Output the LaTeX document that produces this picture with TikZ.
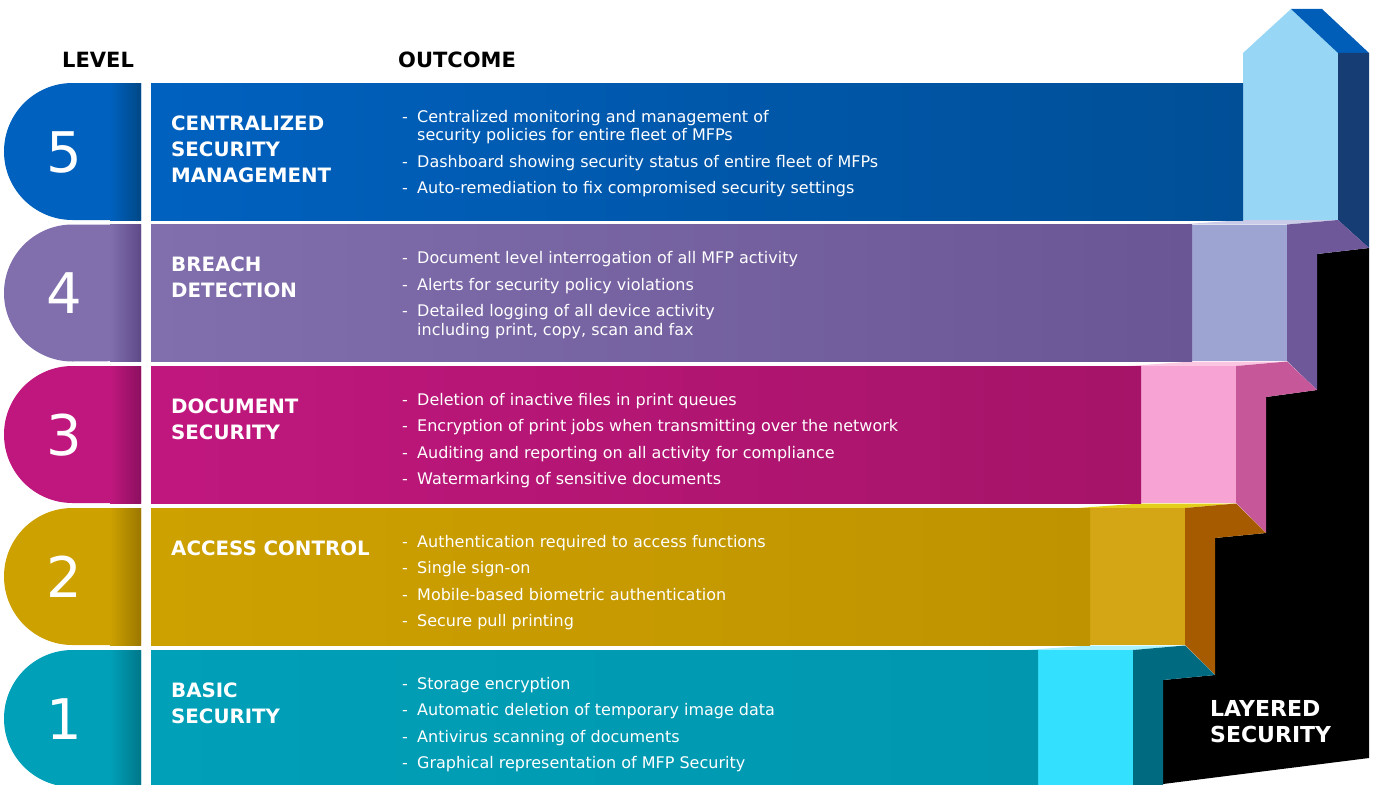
\documentclass[tikz,border=0pt]{standalone}
\usepackage{fontspec}
\setmainfont{DejaVu Sans}

% layer colours: base, bar end, cap edge, step face, step side, step lid
\definecolor{lay5}{HTML}{0061BF}
\definecolor{lay5bar}{HTML}{004F97}
\definecolor{lay5cap}{HTML}{004886}
\definecolor{lay5face}{HTML}{97D7F5}
\definecolor{lay5side}{HTML}{163E75}
\definecolor{lay5roof}{HTML}{005EB8}
\definecolor{lay4}{HTML}{806EAD}
\definecolor{lay4bar}{HTML}{6B5695}
\definecolor{lay4cap}{HTML}{5F4A88}
\definecolor{lay4face}{HTML}{9EA4D2}
\definecolor{lay4side}{HTML}{6E589A}
\definecolor{lay4lid}{HTML}{C9CBE8}
\definecolor{lay3}{HTML}{C0177E}
\definecolor{lay3bar}{HTML}{A51468}
\definecolor{lay3cap}{HTML}{8C1060}
\definecolor{lay3face}{HTML}{F7A3D3}
\definecolor{lay3side}{HTML}{C6589A}
\definecolor{lay3lid}{HTML}{FBC6E2}
\definecolor{lay2}{HTML}{CDA100}
\definecolor{lay2bar}{HTML}{BF9300}
\definecolor{lay2cap}{HTML}{9C7700}
\definecolor{lay2face}{HTML}{D4A514}
\definecolor{lay2side}{HTML}{A75B00}
\definecolor{lay2lid}{HTML}{E3CF1C}
\definecolor{lay1}{HTML}{00A0B8}
\definecolor{lay1bar}{HTML}{0097AF}
\definecolor{lay1cap}{HTML}{00778A}
\definecolor{lay1face}{HTML}{33E1FF}
\definecolor{lay1side}{HTML}{006B80}
\definecolor{lay1lid}{HTML}{A9F1FF}

\newcommand{\outitem}{\makebox[15pt][l]{-}}
\newcommand{\outcont}{\hspace*{15pt}}

\begin{document}
\begin{tikzpicture}[
    x=1pt, y=-1pt,
    heading/.style={anchor=north west, inner sep=0pt, font=\bfseries\fontsize{21}{24}\selectfont},
    levelno/.style={anchor=base, inner sep=0pt, text=white, font=\fontsize{56}{56}\selectfont},
    layertitle/.style={anchor=north west, inner sep=0pt, align=left, text=white,
      font=\bfseries\fontsize{19.8}{26}\selectfont},
    outcome/.style={anchor=north west, inner sep=0pt, align=left, text=white,
      font=\fontsize{16}{18.5}\selectfont},
]
    \useasboundingbox (0,0) rectangle (1375,784);
    \clip (0,0) rectangle (1375,784);

    % Black staircase behind the steps
    \fill[black] (1163,680) -- (1215,675) -- (1215,538) -- (1266,533) -- (1266,397)
      -- (1317,390) -- (1317,254) -- (1369,248) -- (1369,758) -- (1163,784) -- cycle;

    % Top step: the arrow
    \fill[lay5face] (1243,220) -- (1243,53) -- (1291,9) -- (1338,53) -- (1338,220) -- cycle;
    \fill[lay5roof] (1291,9) -- (1322,9) -- (1369,53) -- (1338,53) -- cycle;
    \fill[lay5side] (1338,53) -- (1369,53) -- (1369,248) -- (1338,220) -- cycle;

    % Lower steps (lid, front face, side)
    \fill[lay4lid] (1180,224.5) -- (1287,224.5) -- (1338,220) -- (1243,220) -- cycle;
    \fill[lay4face] (1192,224.5) rectangle (1287,361);
    \fill[lay4side] (1287,224.5) -- (1338,220) -- (1369,248) -- (1317,254) -- (1317,390) -- (1287,361) -- cycle;

    \fill[lay3lid] (1129,366) -- (1236,366) -- (1287,361.5) -- (1192,361.5) -- cycle;
    \fill[lay3face] (1141,366) rectangle (1236,503);
    \fill[lay3side] (1236,366) -- (1287,361.5) -- (1317,390) -- (1266,397) -- (1266,533) -- (1236,503) -- cycle;

    \fill[lay2lid] (1078,508) -- (1185,508) -- (1236,503.5) -- (1141,503.5) -- cycle;
    \fill[lay2face] (1090,508) rectangle (1185,645);
    \fill[lay2side] (1185,508) -- (1236,503.5) -- (1266,533) -- (1215,538) -- (1215,675) -- (1185,645) -- cycle;

    \fill[lay1lid] (1026,650) -- (1133,650) -- (1185,645.5) -- (1090,645.5) -- cycle;
    \fill[lay1face] (1038,650) rectangle (1133,790);
    \fill[lay1side] (1133,650) -- (1185,645.5) -- (1215,675) -- (1163,680) -- (1163,790) -- (1133,790) -- cycle;

    % Level caps and outcome bars
    \foreach \t/\b/\a/\lay in {83/220/1243/lay5, 224.5/361/1192/lay4, 366/503/1141/lay3,
                               508/645/1090/lay2, 650/787/1038/lay1} {
      \fill[\lay] (141,\t) -- (72.5,\t) arc[start angle=-90, end angle=-270, radius=68.5]
        -- (141,\b) -- cycle;
      \shade[left color=\lay, right color=\lay cap] (110,\t) rectangle (141,\b);
      \shade[left color=\lay, right color=\lay bar] (151,\t) rectangle (\a,\b);
    }

    % Column headings
    \node[heading] (levelhead) at (62,51.5) {LEVEL};
    \node[heading] (outcomehead) at (398,51.5) {OUTCOME};

    % Level numbers
    \node[levelno] (lvl5) at (64,172) {5};
    \node[levelno] (lvl4) at (64,313.5) {4};
    \node[levelno] (lvl3) at (64,455) {3};
    \node[levelno] (lvl2) at (64,597) {2};
    \node[levelno] (lvl1) at (64,739) {1};

    % Layer names
    \node[layertitle] (title5) at (171,115.6) {CENTRALIZED\\SECURITY\\MANAGEMENT};
    \node[layertitle] (title4) at (171,257.1) {BREACH\\DETECTION};
    \node[layertitle] (title3) at (171,398.6) {DOCUMENT\\SECURITY};
    \node[layertitle] (title2) at (171,540.6) {ACCESS CONTROL};
    \node[layertitle] (title1) at (171,682.6) {BASIC\\SECURITY};

    % Outcomes per layer
    \node[outcome] (out5) at (402,110) {%
      \outitem Centralized monitoring and management of\\
      \outcont security policies for entire fleet of MFPs\\[8pt]
      \outitem Dashboard showing security status of entire fleet of MFPs\\[8pt]
      \outitem Auto-remediation to fix compromised security settings};
    \node[outcome] (out4) at (402,251.5) {%
      \outitem Document level interrogation of all MFP activity\\[8pt]
      \outitem Alerts for security policy violations\\[8pt]
      \outitem Detailed logging of all device activity\\
      \outcont including print, copy, scan and fax};
    \node[outcome] (out3) at (402,393) {%
      \outitem Deletion of inactive files in print queues\\[8pt]
      \outitem Encryption of print jobs when transmitting over the network\\[8pt]
      \outitem Auditing and reporting on all activity for compliance\\[8pt]
      \outitem Watermarking of sensitive documents};
    \node[outcome] (out2) at (402,535) {%
      \outitem Authentication required to access functions\\[8pt]
      \outitem Single sign-on\\[8pt]
      \outitem Mobile-based biometric authentication\\[8pt]
      \outitem Secure pull printing};
    \node[outcome] (out1) at (402,677) {%
      \outitem Storage encryption\\[8pt]
      \outitem Automatic deletion of temporary image data\\[8pt]
      \outitem Antivirus scanning of documents\\[8pt]
      \outitem Graphical representation of MFP Security};

    % Staircase label
    \node[anchor=north west, inner sep=0pt, align=left, text=white,
      font=\bfseries\fontsize{22}{26}\selectfont] (layered) at (1210,700) {LAYERED\\SECURITY};
\end{tikzpicture}
\end{document}
